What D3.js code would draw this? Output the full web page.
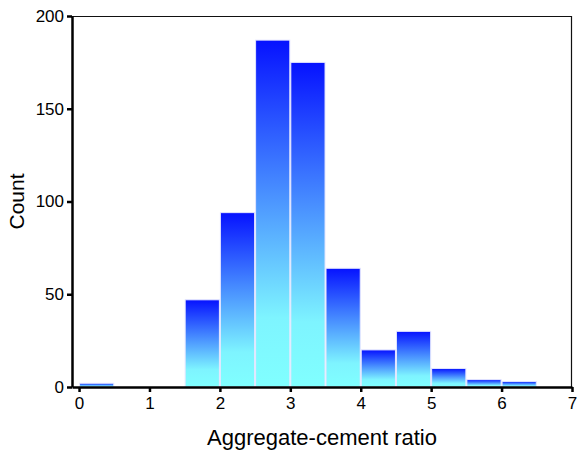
<!DOCTYPE html>
<html><head><meta charset="utf-8">
<script src="https://cdn.jsdelivr.net/npm/d3@7"></script>
<style>body{margin:0;background:#fff}svg{display:block}text{font-family:"Liberation Sans",Arial,sans-serif;fill:#000}</style>
</head><body>
<svg id="c" width="579" height="454"></svg>
<script>
const binLo = [0, 0.5, 1, 1.5, 2, 2.5, 3, 3.5, 4, 4.5, 5, 5.5, 6];
const binHi = [0.5, 1, 1.5, 2, 2.5, 3, 3.5, 4, 4.5, 5, 5.5, 6, 6.5];
const counts = [2, 0, 0, 47, 94, 187, 175, 64, 20, 30, 10, 4, 3];
const xTicks = [0, 1, 2, 3, 4, 5, 6, 7];
const yTicks = [0, 50, 100, 150, 200];

const svg = d3.select("#c");
const L = 72, R = 572, T = 16, B = 387;
const x = d3.scaleLinear().domain([-0.1, 7]).range([L, R]);
const y = d3.scaleLinear().domain([0, 200]).range([B, T]);

const defs = svg.append("defs");
const g = defs.append("linearGradient").attr("id", "grad")
  .attr("x1", 0).attr("y1", 0).attr("x2", 0).attr("y2", 1);
[[0, "#0612ff"], [0.45, "#4a92ff"], [0.8, "#7ef4ff"], [1, "#80ffff"]].forEach(([o, c]) =>
  g.append("stop").attr("offset", o).attr("stop-color", c));

const data = counts.map((c, i) => ({lo: binLo[i], hi: binHi[i], c}));
svg.append("g").selectAll("rect").data(data.filter(d => d.c > 0)).join("rect")
  .attr("x", d => x(d.lo) + 0.5)
  .attr("width", d => x(d.hi) - x(d.lo) - 1)
  .attr("y", d => y(d.c))
  .attr("height", d => y(0) - y(d.c))
  .attr("fill", "url(#grad)")
  .attr("stroke", "#e4e6ff").attr("stroke-width", 1);

// frame top and right
svg.append("line").attr("x1", L).attr("x2", R).attr("y1", T + 0.5).attr("y2", T + 0.5)
  .attr("stroke", "#111").attr("stroke-width", 1.2);
svg.append("line").attr("x1", R - 0.5).attr("x2", R - 0.5).attr("y1", T).attr("y2", B)
  .attr("stroke", "#111").attr("stroke-width", 1.2);

const xa = svg.append("g").attr("transform", `translate(0,${B})`)
  .call(d3.axisBottom(x).tickValues(xTicks).tickFormat(d3.format("d")).tickSize(5).tickSizeOuter(0));
const ya = svg.append("g").attr("transform", `translate(${L},0)`)
  .call(d3.axisLeft(y).tickValues(yTicks).tickSize(5).tickSizeOuter(0));
[xa, ya].forEach(a => {
  a.select(".domain").attr("stroke", "#000").attr("stroke-width", 2.5);
  a.selectAll(".tick line").attr("stroke", "#000").attr("stroke-width", 2.5);
  a.selectAll(".tick text").attr("font-size", 17).attr("font-family", '"Liberation Sans",Arial,sans-serif');
});
xa.selectAll(".tick text").attr("dy", "0.71em").attr("y", 10);
ya.selectAll(".tick text").attr("x", -8);

svg.append("text").attr("x", 322).attr("y", 445).attr("text-anchor", "middle")
  .attr("font-size", 22).text("Aggregate-cement ratio");
svg.append("text").attr("transform", `translate(24,${(T + B) / 2}) rotate(-90)`)
  .attr("text-anchor", "middle").attr("font-size", 21).text("Count");
</script>
</body></html>
